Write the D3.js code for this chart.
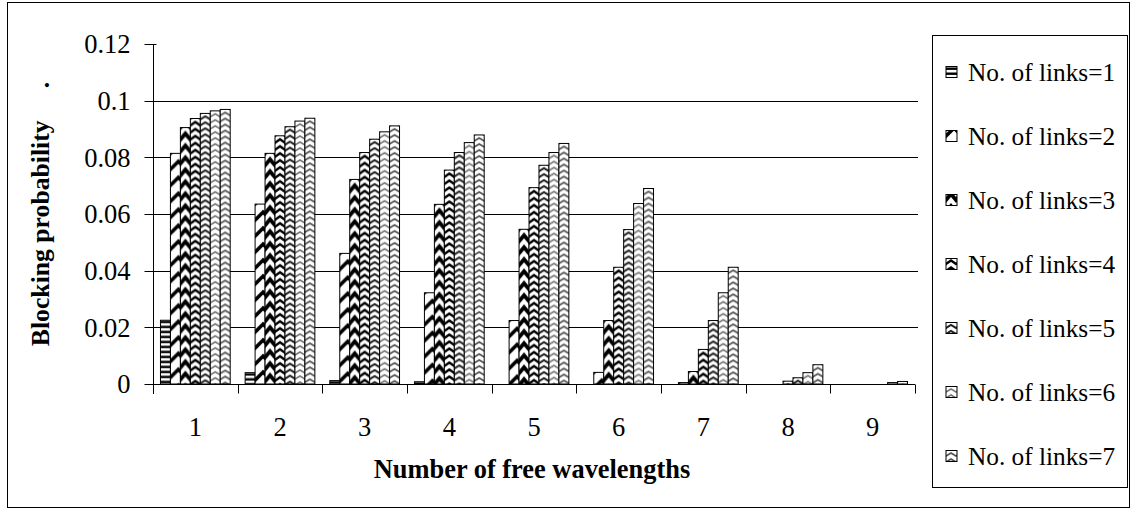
<!DOCTYPE html>
<html>
<head>
<meta charset="utf-8">
<script src="https://cdn.jsdelivr.net/npm/d3@7"></script>
<style>
  body { margin: 0; background: #fff; }
  text { font-family: "Liberation Serif", "Times New Roman", serif; fill: #000; }
</style>
</head>
<body>
<svg id="chart" width="1133" height="514"></svg>
<script>
// Blocking probability vs. number of free wavelengths, one series per link count
const wavelengths = ["1", "2", "3", "4", "5", "6", "7", "8", "9"];
const seriesNames = ["No. of links=1", "No. of links=2", "No. of links=3", "No. of links=4",
                     "No. of links=5", "No. of links=6", "No. of links=7"];
const links1 = [0.0225, 0.0040, 0.0012, 0.0008, 0, 0, 0, 0, 0];
const links2 = [0.0814, 0.0635, 0.0461, 0.0322, 0.0224, 0.0041, 0.0005, 0, 0];
const links3 = [0.0905, 0.0814, 0.0722, 0.0634, 0.0546, 0.0224, 0.0044, 0, 0];
const links4 = [0.0937, 0.0876, 0.0817, 0.0755, 0.0693, 0.0412, 0.0122, 0.0010, 0];
const links5 = [0.0955, 0.0908, 0.0864, 0.0817, 0.0772, 0.0545, 0.0224, 0.0022, 0];
const links6 = [0.0964, 0.0928, 0.0890, 0.0852, 0.0817, 0.0637, 0.0322, 0.0040, 0.0005];
const links7 = [0.0969, 0.0938, 0.0911, 0.0879, 0.0849, 0.0690, 0.0412, 0.0068, 0.0009];
const yTicks = [0, 0.02, 0.04, 0.06, 0.08, 0.1, 0.12];
const yTickLabels = ["0", "0.02", "0.04", "0.06", "0.08", "0.1", "0.12"];

const series = [links1, links2, links3, links4, links5, links6, links7];

const svg = d3.select("#chart");
const plot = { left: 153, right: 915, top: 44, bottom: 384 };

const x0 = d3.scaleBand().domain(wavelengths).range([plot.left, plot.right]).padding(0);
const x1 = d3.scaleBand().domain(d3.range(series.length)).range([0, x0.bandwidth()])
  .paddingInner(0).paddingOuter(0.75);
const y = d3.scaleLinear().domain([0, 0.12]).range([plot.bottom, plot.top]);

// Outer chart frame
svg.append("rect").attr("x", 7.5).attr("y", 2.5).attr("width", 1122).attr("height", 505)
  .attr("fill", "#fff").attr("stroke", "#000").attr("stroke-width", 1);

// Fill patterns, one per series
const defs = svg.append("defs");
function chevronPattern(id, period, width, apex, stroke, sw) {
  const p = defs.append("pattern").attr("id", id).attr("patternUnits", "userSpaceOnUse")
    .attr("width", width).attr("height", period);
  p.append("rect").attr("width", width).attr("height", period).attr("fill", "#fff");
  const h = period / 2;
  for (let k = -1; k <= 1; k++) {
    const o = k * period;
    p.append("path")
      .attr("d", `M${apex - width},${o + period + h} L${apex},${o + h} L${apex + width},${o + period + h}`)
      .attr("fill", "none").attr("stroke", stroke).attr("stroke-width", sw);
  }
}
{
  const p = defs.append("pattern").attr("id", "pat0").attr("patternUnits", "userSpaceOnUse")
    .attr("width", 10).attr("height", 5);
  p.append("rect").attr("width", 10).attr("height", 5).attr("fill", "#fff");
  p.append("rect").attr("y", 0.5).attr("width", 10).attr("height", 2.4).attr("fill", "#000");
}
chevronPattern("pat1", 16, 16, 8, "#000", 3.6);
chevronPattern("pat2", 12, 10, 5, "#000", 3.8);
chevronPattern("pat3", 7, 10, 5, "#000", 2.3);
chevronPattern("pat4", 6, 10, 5, "#222", 2.0);
chevronPattern("pat5", 6, 10, 5, "#777", 1.6);
chevronPattern("pat6", 6, 10, 5, "#555", 1.8);

// Gridlines
svg.append("g").selectAll("line").data(yTicks.filter(v => v > 0 && v < 0.12)).join("line")
  .attr("x1", plot.left).attr("x2", plot.right + 3)
  .attr("y1", d => Math.round(y(d)) + 0.5).attr("y2", d => Math.round(y(d)) + 0.5)
  .attr("stroke", "#000").attr("stroke-width", 1);

// Bars
const groups = svg.append("g").selectAll("g").data(wavelengths).join("g")
  .attr("transform", d => `translate(${x0(d)},0)`);
groups.each(function (w, wi) {
  const g = d3.select(this);
  series.forEach((vals, si) => {
    const v = vals[wi];
    if (v <= 0) return;
    const bx = x1(si);
    g.append("g").attr("transform", `translate(${bx},${y(v)})`)
      .append("rect")
      .attr("x", 0).attr("y", 0)
      .attr("width", x1.bandwidth()).attr("height", y(0) - y(v))
      .attr("fill", `url(#pat${si})`)
      .attr("stroke", "#000").attr("stroke-width", 1);
  });
});

// Y axis
const yAxis = svg.append("g").attr("transform", `translate(${plot.left + 0.5},0)`);
yAxis.append("line").attr("y1", plot.top).attr("y2", plot.bottom + 10)
  .attr("stroke", "#000");
yAxis.selectAll("line.tick").data(yTicks).join("line").attr("class", "tick")
  .attr("x1", -9).attr("x2", 3)
  .attr("y1", d => Math.round(y(d)) + 0.5).attr("y2", d => Math.round(y(d)) + 0.5)
  .attr("stroke", "#000");
yAxis.selectAll("text").data(yTicks).join("text")
  .attr("x", -23).attr("y", d => y(d)).attr("dy", "0.35em")
  .attr("text-anchor", "end").attr("font-size", 26.5)
  .text((d, i) => yTickLabels[i]);

// X axis
const xAxis = svg.append("g").attr("transform", `translate(0,${plot.bottom + 0.5})`);
xAxis.append("line").attr("x1", plot.left).attr("x2", plot.right).attr("stroke", "#000");
xAxis.selectAll("line.tick").data(wavelengths).join("line").attr("class", "tick")
  .attr("x1", d => Math.round(x0(d) + x0.bandwidth()) + 0.5)
  .attr("x2", d => Math.round(x0(d) + x0.bandwidth()) + 0.5)
  .attr("y1", 0).attr("y2", 9).attr("stroke", "#000");
xAxis.selectAll("text").data(wavelengths).join("text")
  .attr("x", d => x0(d) + x0.bandwidth() / 2).attr("y", 51)
  .attr("text-anchor", "middle").attr("font-size", 26.5)
  .text(d => d);

// Axis titles
svg.append("text")
  .attr("x", (plot.left + plot.right) / 2 - 2).attr("y", 478)
  .attr("text-anchor", "middle").attr("font-size", 26.4).attr("font-weight", "bold")
  .text("Number of free wavelengths");
svg.append("text")
  .attr("transform", `translate(49,${(plot.top + plot.bottom) / 2}) rotate(-90)`)
  .attr("text-anchor", "middle").attr("font-size", 25.7).attr("font-weight", "bold")
  .style("white-space", "pre")
  .text("Blocking probability     .");

// Legend
const legend = svg.append("g");
legend.append("rect").attr("x", 932.5).attr("y", 35.5).attr("width", 195).attr("height", 452)
  .attr("fill", "#fff").attr("stroke", "#000");
const items = legend.selectAll("g").data(seriesNames).join("g")
  .attr("transform", (d, i) => `translate(946,${72 + i * 64})`);
items.append("rect").attr("x", 0).attr("y", -5.5).attr("width", 11).attr("height", 11)
  .attr("fill", (d, i) => `url(#pat${i})`).attr("stroke", "#000");
items.append("text").attr("x", 22).attr("dy", "0.35em").attr("font-size", 25.3)
  .text(d => d);
</script>
</body>
</html>
